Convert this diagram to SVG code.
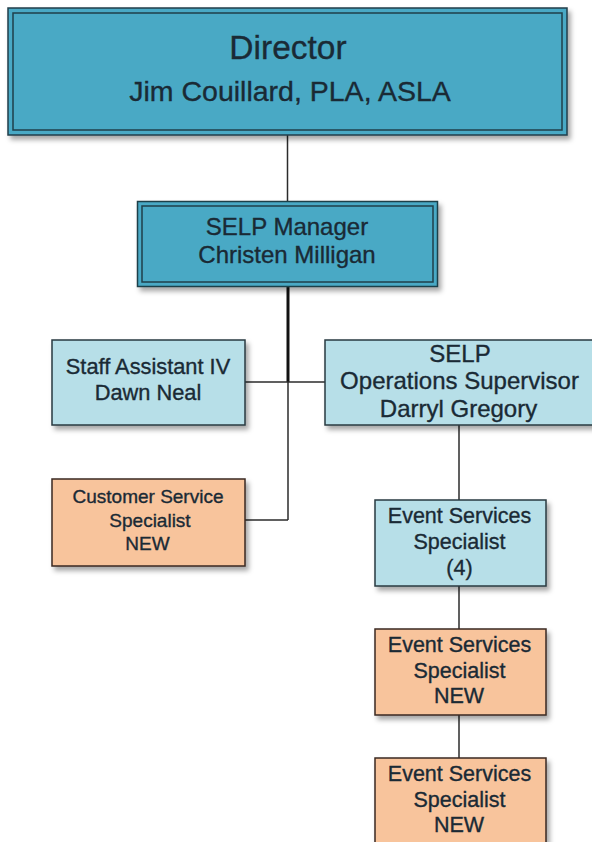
<svg xmlns="http://www.w3.org/2000/svg" width="592" height="842" viewBox="0 0 592 842">
<style>
.txt{font-family:"Liberation Sans",Arial,sans-serif;fill:#1a2a35;stroke:#1a2a35;stroke-width:0.35;text-anchor:middle}
.dark{fill:#4aa9c5;stroke:#1f3f4a;stroke-width:1.5}
.inner{fill:none;stroke:#1f3f4a;stroke-width:1.5}
.light{fill:#b7dfe8;stroke:#2a3a40;stroke-width:1.5}
.orange{fill:#f8c49c;stroke:#3a2a22;stroke-width:1.5}
.con{stroke:#2b2b2b;stroke-width:1.5;fill:none}
</style>
<defs>
<filter id="sh" x="-10%" y="-10%" width="130%" height="140%">
<feDropShadow dx="3" dy="4" stdDeviation="2.5" flood-color="#000" flood-opacity="0.35"/>
</filter>
</defs>
<rect width="592" height="842" fill="#ffffff"/>
<g id="connectors">
<line class="con" x1="287.5" y1="134" x2="287.5" y2="202"/>
<line class="con" x1="288" y1="287" x2="288" y2="382" style="stroke-width:3;stroke:#111"/>
<line class="con" x1="288" y1="382" x2="288" y2="520"/>
<line class="con" x1="245" y1="382" x2="325" y2="382"/>
<line class="con" x1="245" y1="520" x2="288" y2="520"/>
<line class="con" x1="459" y1="425" x2="459" y2="500"/>
<line class="con" x1="459" y1="586" x2="459" y2="629"/>
<line class="con" x1="459" y1="715" x2="459" y2="758"/>
</g>
<g id="director">
<rect class="dark" x="8" y="8" width="559" height="127" filter="url(#sh)"/>
<rect class="inner" x="13" y="13" width="549" height="117"/>
<text class="txt" x="288" y="58.5" font-size="33.5">Director</text>
<text class="txt" x="290" y="101" font-size="28.5">Jim Couillard, PLA, ASLA</text>
</g>
<g id="manager">
<rect class="dark" x="137.5" y="201.5" width="300" height="85" filter="url(#sh)"/>
<rect class="inner" x="142" y="206" width="291" height="76"/>
<text class="txt" x="287" y="235" font-size="24">SELP Manager</text>
<text class="txt" x="287" y="263" font-size="24">Christen Milligan</text>
</g>
<g id="staff-assistant">
<rect class="light" x="52" y="340" width="193" height="85" filter="url(#sh)"/>
<text class="txt" x="148" y="374" font-size="21.8">Staff Assistant IV</text>
<text class="txt" x="148" y="400" font-size="21.8">Dawn Neal</text>
</g>
<g id="ops-supervisor">
<rect class="light" x="325" y="340" width="272" height="85" filter="url(#sh)"/>
<text class="txt" x="460" y="362" font-size="24">SELP</text>
<text class="txt" x="459.5" y="389" font-size="24">Operations Supervisor</text>
<text class="txt" x="458.5" y="417" font-size="24">Darryl Gregory</text>
</g>
<g id="customer-service">
<rect class="orange" x="52" y="479" width="193" height="87" filter="url(#sh)"/>
<text class="txt" x="148" y="503" font-size="19">Customer Service</text>
<text class="txt" x="150" y="527" font-size="19">Specialist</text>
<text class="txt" x="147.5" y="550" font-size="19">NEW</text>
</g>
<g id="event-services-4">
<rect class="light" x="375" y="500" width="171" height="86" filter="url(#sh)"/>
<text class="txt" x="459.5" y="523" font-size="21.5">Event Services</text>
<text class="txt" x="459.5" y="549" font-size="21.5">Specialist</text>
<text class="txt" x="459.5" y="575" font-size="21.5">(4)</text>
</g>
<g id="event-services-new-1">
<rect class="orange" x="375" y="629" width="171" height="86" filter="url(#sh)"/>
<text class="txt" x="459.5" y="652" font-size="21.5">Event Services</text>
<text class="txt" x="459.5" y="678" font-size="21.5">Specialist</text>
<text class="txt" x="459" y="703" font-size="21.5">NEW</text>
</g>
<g id="event-services-new-2">
<rect class="orange" x="375" y="758" width="171" height="100" filter="url(#sh)"/>
<text class="txt" x="459.5" y="781" font-size="21.5">Event Services</text>
<text class="txt" x="459.5" y="807" font-size="21.5">Specialist</text>
<text class="txt" x="459" y="832" font-size="21.5">NEW</text>
</g>
</svg>
